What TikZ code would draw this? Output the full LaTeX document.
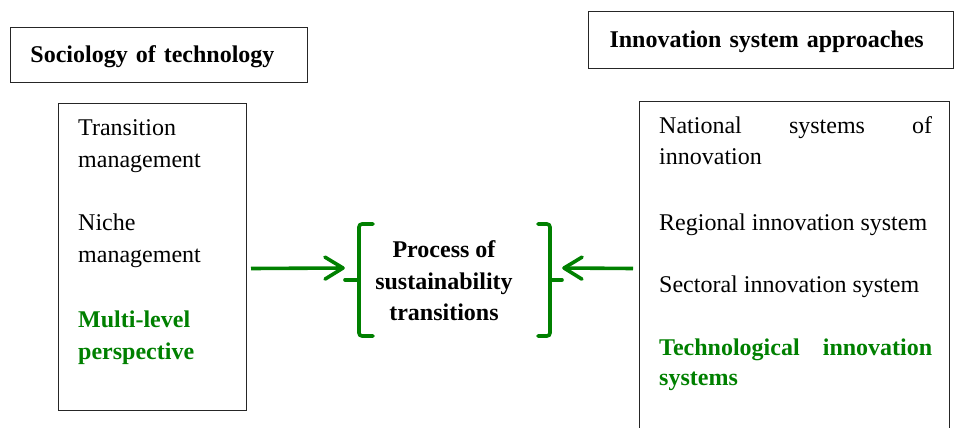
\documentclass[tikz,border=0pt]{standalone}
\usepackage{fontspec}
\setmainfont{Liberation Serif}
\usetikzlibrary{arrows.meta}
\definecolor{tgreen}{RGB}{0,128,0}
\tikzset{
  boxline/.style={draw=black!85, line width=1pt, rectangle},
  hdrbox/.style={boxline, anchor=north west, align=left, inner ysep=0pt,
    font=\fontsize{24}{32}\selectfont\bfseries, text height=17pt, text depth=2pt},
  listbox/.style={boxline, anchor=north west, inner sep=0pt},
  txt/.style={anchor=base west, inner sep=0pt, font=\fontsize{24}{32}\selectfont},
  gtxt/.style={txt, text=tgreen, font=\fontsize{24}{32}\selectfont\bfseries},
  ctxt/.style={anchor=base, inner sep=0pt, font=\fontsize{24}{32}\selectfont\bfseries},
  brk/.style={draw=tgreen, line width=3.6pt, rounded corners=3pt, line cap=round},
  garrow/.style={draw=tgreen, line width=3.6pt,
    -{Straight Barb[length=18pt, width=22pt, round]}}
}
\begin{document}
\begin{tikzpicture}[x=1pt, y=-1pt]
\useasboundingbox (0,0) rectangle (956,428);
\clip (0,0) rectangle (956,428);

% headers
\node[hdrbox, minimum width=297pt, minimum height=55pt, inner xsep=20pt, text width=257pt]
  (soc) at (10,27) {Sociology of technology};
\node[hdrbox, minimum width=365pt, minimum height=57pt, inner xsep=21pt, text width=323pt]
  (inn) at (588,11) {Innovation system approaches};

% list boxes
\node[listbox, minimum width=188pt, minimum height=307pt] (lbox) at (58,103) {};
\node[listbox, minimum width=310pt, minimum height=334pt] (rbox) at (639,101) {};

% left list
\node[txt] (l1) at (78,135) {Transition};
\node[txt] (l2) at (78,167) {management};
\node[txt] (l3) at (78,230) {Niche};
\node[txt] (l4) at (78,262) {management};
\node[gtxt] (l5) at (78,327) {Multi-level};
\node[gtxt] (l6) at (78,359) {perspective};

% right list
\node[txt] (r1) at (659,133) {\makebox[273pt][s]{National systems of}};
\node[txt] (r2) at (659,164) {innovation};
\node[txt] (r3) at (659,230) {Regional innovation system};
\node[txt] (r4) at (659,292) {Sectoral innovation system};
\node[gtxt] (r5) at (659,355) {\makebox[273pt][s]{Technological innovation}};
\node[gtxt] (r6) at (659,385) {systems};

% centre
\node[rectangle, minimum width=217pt, minimum height=112pt, inner sep=0pt] (proc) at (453.5,280) {};
\node[ctxt] (c1) at (444,257) {Process of};
\node[ctxt] (c2) at (444,289) {sustainability};
\node[ctxt] (c3) at (444,320) {transitions};

% brackets
\draw[brk] (373,224) -- (359,224) -- (359,336) -- (373,336);
\draw[brk] (359,280) -- (345,280);
\draw[brk] (538,224) -- (550,224) -- (550,336) -- (538,336);
\draw[brk] (550,280) -- (562,280);

% arrows
\draw[garrow] ([xshift=4pt, yshift=-11.5pt]lbox.east) -- ([yshift=12pt]proc.west);
\draw[garrow] ([xshift=-6pt]rbox.west) -- ([yshift=12pt]proc.east);
\end{tikzpicture}
\end{document}
